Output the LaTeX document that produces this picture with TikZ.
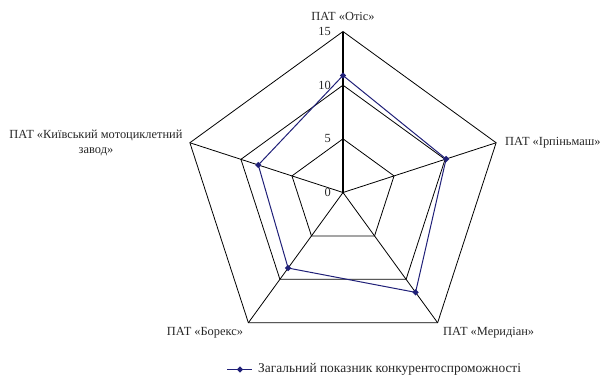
\documentclass[tikz,border=0pt]{standalone}
\usepackage{fontspec}
\setmainfont{Liberation Serif}
\usetikzlibrary{shapes.geometric}
\definecolor{navyser}{RGB}{32,32,120}
\begin{document}
\begin{tikzpicture}[x=1pt,y=1pt,
  gridline/.style={draw=black, line width=0.8pt},
  series/.style={draw=navyser, line width=1pt},
  lbl/.style={font=\fontsize{12.4}{15}\selectfont, text=black!85, inner sep=0pt},
  leg/.style={font=\fontsize{13.4}{16}\selectfont, text=black!85, inner sep=0pt},
  tick/.style={font=\fontsize{12.4}{14}\selectfont, text=black!85, inner sep=0pt, anchor=east},
  mk/.style={diamond, fill=navyser, inner sep=0pt, minimum size=6.5pt}]
\useasboundingbox (0,0) rectangle (600,-380);
\def\s{10.733}
\begin{scope}[shift={(343,-192.5)}]
  \coordinate (O) at (0,0);
  \foreach \i/\a in {1/90,2/18,3/-54,4/-126,5/162} {
    \coordinate (g\i) at (\a:161);
    \coordinate (h\i) at (\a:107.33);
    \coordinate (k\i) at (\a:53.67);
  }
  \draw[gridline] (k1) -- (k2) -- (k3) -- (k4) -- (k5) -- cycle;
  \draw[gridline] (h1) -- (h2) -- (h3) -- (h4) -- (h5) -- cycle;
  \draw[gridline] (g1) -- (g2) -- (g3) -- (g4) -- (g5) -- cycle;
  \foreach \i in {2,3,4,5} \draw[gridline] (O) -- (g\i);
  \draw[gridline, line width=1.1pt] (O) -- (g1);
  \node[tick] (t0) at (-12,0) {0};
  \node[tick] (t5) at (-12,53.67) {5};
  \node[tick] (t10) at (-12,107.33) {10};
  \node[tick] (t15) at (-12,161) {15};
  \node[mk] (d1) at (90:10.9*\s) {};
  \node[mk] (d2) at (18:10.1*\s) {};
  \node[mk] (d3) at (-54:11.5*\s) {};
  \node[mk] (d4) at (-126:8.7*\s) {};
  \node[mk] (d5) at (162:8.3*\s) {};
  \draw[series] (d1.center) -- (d2.center) -- (d3.center) -- (d4.center) -- (d5.center) -- cycle;
\end{scope}
\node[lbl] (l1) at (343,-16) {ПАТ «Отіс»};
\node[lbl, anchor=west] (l2) at (505,-143) {ПАТ «Ірпіньмаш»};
\node[lbl, anchor=west] (l3) at (443,-333) {ПАТ «Меридіан»};
\node[lbl] (l4) at (205,-333) {ПАТ «Борекс»};
\node[lbl, align=center] (l5) at (96,-142.5) {ПАТ «Київський мотоциклетний\\завод»};
\coordinate (la) at (227,-369.5);
\coordinate (lb) at (252,-369.5);
\draw[series] (la) -- (lb);
\node[mk] (lm) at (240,-369.5) {};
\node[leg, anchor=west] (lt) at (258,-369.5) {Загальний показник конкурентоспроможності};
\end{tikzpicture}
\end{document}
